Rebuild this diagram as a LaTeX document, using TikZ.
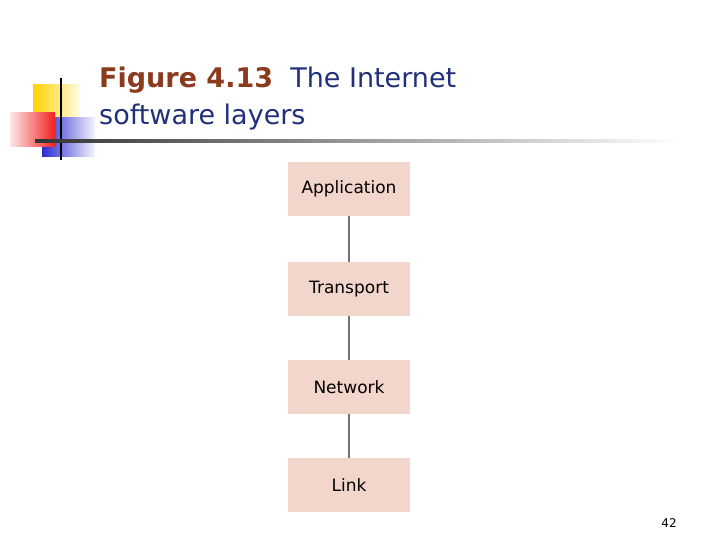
\documentclass[tikz,border=0pt]{standalone}
\usepackage{fontspec}
\setmainfont{DejaVu Sans}
\definecolor{ttl}{HTML}{8B3A1E}
\definecolor{boxc}{HTML}{F2D5CB}
\definecolor{ylw}{HTML}{FFD200}
\definecolor{blu}{HTML}{2B2BD0}
\definecolor{rd}{HTML}{F02020}
\definecolor{ttb}{HTML}{22307A}
\usetikzlibrary{shadings}
\begin{document}
\begin{tikzpicture}[x=1pt,y=-1pt,
  layer/.style={fill=boxc,minimum width=122pt,minimum height=54pt,inner sep=0pt,font=\fontsize{17}{20}\selectfont},
  link/.style={draw=gray!90!black,line width=2pt}]
\useasboundingbox (0,0) rectangle (720,540);
\fill[white] (0,0) rectangle (720,540);
% logo
\shade[left color=ylw,right color=ylw!10] (33,85) rectangle (80,122);
\shade[left color=blu,right color=blu!5] (42,118) rectangle (95,157);
\shade[left color=rd!10,right color=rd] (10,113) rectangle (55,147);
\draw[line width=1.5pt] (61,78) -- (61,160);
\shade[left color=black!80,right color=white] (35,140) rectangle (680,142.5);
% title
\node[anchor=west,inner sep=0pt,font=\fontsize{27}{32}\selectfont,text=ttl] (t1) at (99,80) {\textbf{Figure 4.13}\ \ \textcolor{ttb}{The Internet}};
\node[anchor=west,inner sep=0pt,font=\fontsize{27}{32}\selectfont,text=ttb] (t2) at (99,117) {software layers};
% layers
\node[layer] (app) at (349,189) {Application};
\node[layer] (tra) at (349,289) {Transport};
\node[layer] (net) at (349,387) {Network};
\node[layer] (lnk) at (349,485) {Link};
\draw[link] (app) -- (tra);
\draw[link] (tra) -- (net);
\draw[link] (net) -- (lnk);
\node[font=\fontsize{12}{14}\selectfont] (pg) at (669,523) {42};
\end{tikzpicture}
\end{document}
